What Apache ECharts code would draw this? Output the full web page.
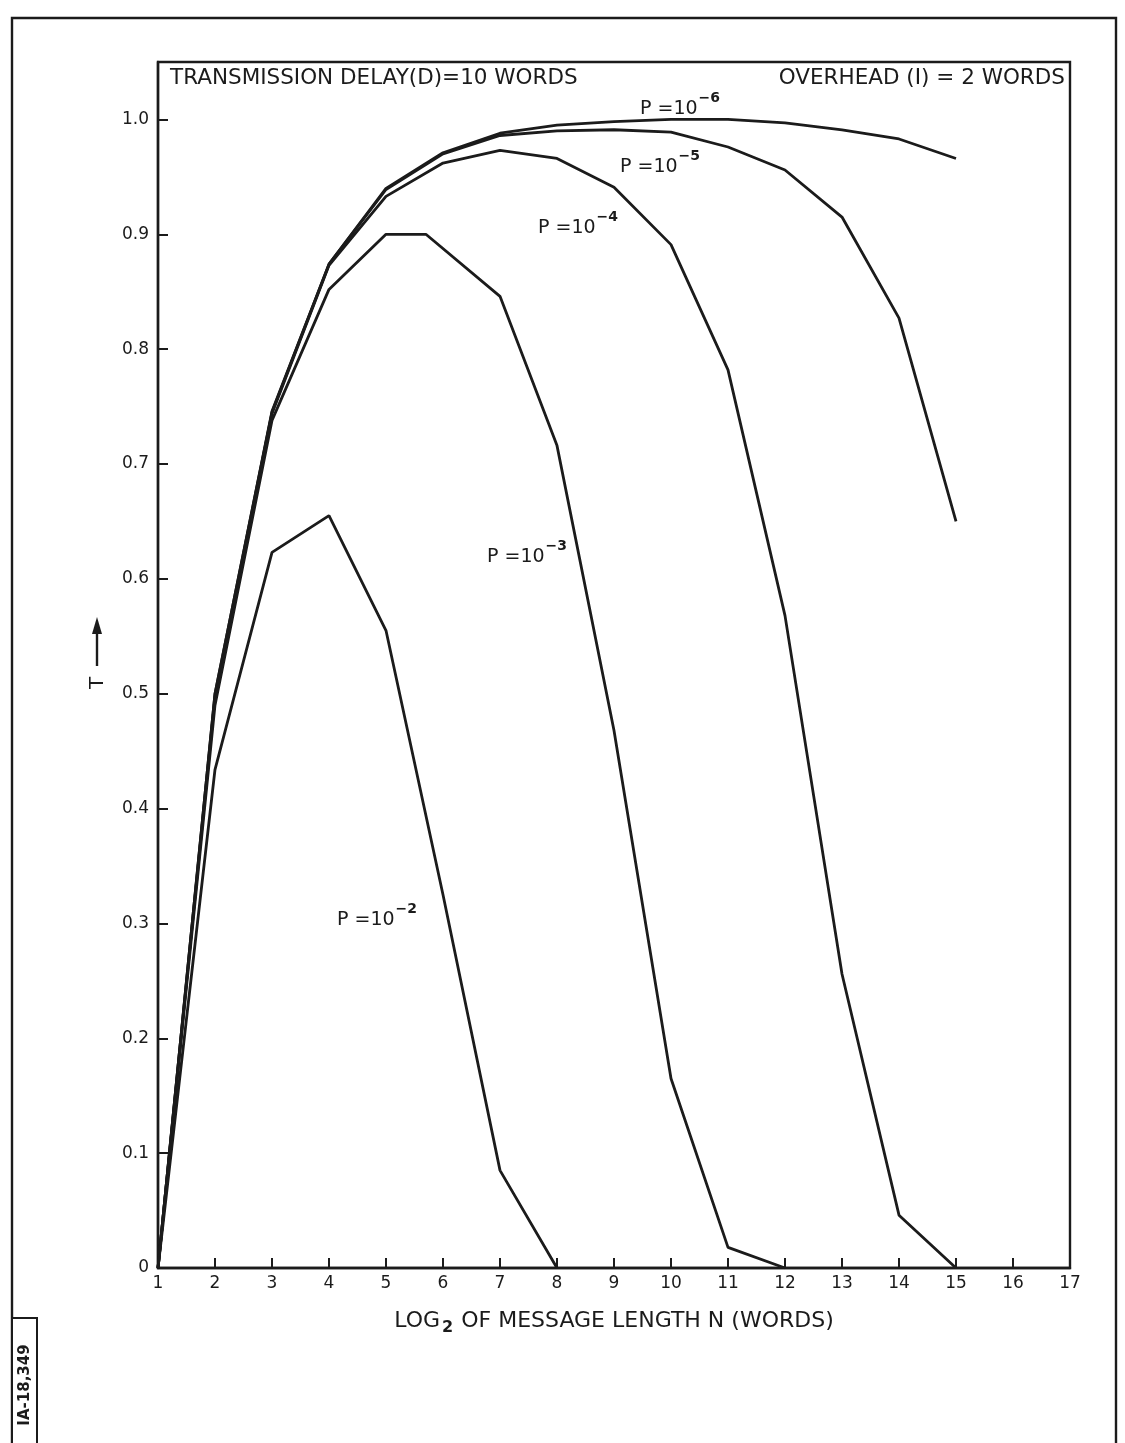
<!DOCTYPE html>
<html>
<head>
<meta charset="utf-8">
<script src="https://cdn.jsdelivr.net/npm/echarts@6/dist/echarts.min.js"></script>
<style>
  html, body { margin: 0; padding: 0; background: #ffffff; }
  #chart { width: 1125px; height: 1443px; }
</style>
</head>
<body>
<div id="chart"></div>
<script>
// ---- data (x = log2 N, y = T) ----
const X_P6 = [1, 2, 3, 4, 5, 6, 7, 8, 9, 10, 11, 12, 13, 14, 15];
const T_P6 = [0, 0.500, 0.746, 0.874, 0.940, 0.971, 0.988, 0.995, 0.998, 1.000, 1.000, 0.997, 0.991, 0.983, 0.966];

const X_P5 = [1, 2, 3, 4, 5, 6, 7, 8, 9, 10, 11, 12, 13, 14, 15];
const T_P5 = [0, 0.500, 0.745, 0.874, 0.939, 0.970, 0.986, 0.990, 0.991, 0.989, 0.976, 0.956, 0.915, 0.827, 0.650];

const X_P4 = [1, 2, 3, 4, 5, 6, 7, 8, 9, 10, 11, 12, 13, 14, 15];
const T_P4 = [0, 0.497, 0.744, 0.873, 0.933, 0.962, 0.973, 0.966, 0.941, 0.891, 0.782, 0.568, 0.256, 0.046, 0];

const X_P3 = [1, 2, 3, 4, 5, 5.7, 7, 8, 9, 10, 11, 12];
const T_P3 = [0, 0.490, 0.738, 0.852, 0.900, 0.900, 0.846, 0.716, 0.468, 0.165, 0.018, 0];

const X_P2 = [1, 2, 3, 4, 5, 6, 7, 8];
const T_P2 = [0, 0.434, 0.623, 0.655, 0.555, 0.325, 0.085, 0];

const X_TICKS = [1, 2, 3, 4, 5, 6, 7, 8, 9, 10, 11, 12, 13, 14, 15, 16, 17];
const Y_TICKS = [0, 0.1, 0.2, 0.3, 0.4, 0.5, 0.6, 0.7, 0.8, 0.9, 1.0];

const CURVE_LABELS = [
  { name: 'P6', exp: '−6' },
  { name: 'P5', exp: '−5' },
  { name: 'P4', exp: '−4' },
  { name: 'P3', exp: '−3' },
  { name: 'P2', exp: '−2' }
];

function pairs(xs, ys) { return xs.map((x, i) => [x, ys[i]]); }

const INK = '#1b1b1b';
const FONT = '"DejaVu Sans", "Liberation Sans", sans-serif';

const chart = echarts.init(document.getElementById('chart'), null, { renderer: 'canvas' });

function lineSeries(name, xs, ys) {
  return {
    name: name,
    type: 'line',
    data: pairs(xs, ys),
    showSymbol: false,
    symbol: 'none',
    smooth: false,
    lineStyle: { color: INK, width: 2.8 },
    itemStyle: { color: INK },
    emphasis: { disabled: true },
    animation: false,
    z: 3
  };
}

function curveLabel(exp, left, top) {
  return {
    type: 'text',
    left: left,
    top: top,
    style: {
      text: '{a|P =10}{s|' + exp + '}',
      rich: {
        a: { fontFamily: FONT, fontSize: 19, fill: INK, color: INK, lineHeight: 28, verticalAlign: 'bottom' },
        s: { fontFamily: FONT, fontSize: 14, fontWeight: 'bold', fill: INK, color: INK, lineHeight: 28, verticalAlign: 'top', padding: [0, 0, 12, 1] }
      }
    },
    z: 10
  };
}

const option = {
  backgroundColor: '#ffffff',
  animation: false,
  textStyle: { fontFamily: FONT, color: INK },
  grid: {
    left: 158,
    right: 55,
    top: 62,
    bottom: 175,
    show: true,
    borderColor: INK,
    borderWidth: 2.4,
    backgroundColor: 'transparent'
  },
  xAxis: {
    type: 'value',
    min: X_TICKS[0],
    max: X_TICKS[X_TICKS.length - 1],
    interval: 1,
    splitLine: { show: false },
    axisLine: { show: true, lineStyle: { color: INK, width: 2.4 } },
    axisTick: { show: true, inside: true, length: 10, lineStyle: { color: INK, width: 2 } },
    axisLabel: { color: INK, fontFamily: FONT, fontSize: 17, margin: 7, formatter: v => String(v) },
    name: '{a|LOG}{b|2}{a| OF MESSAGE LENGTH N (WORDS)}',
    nameLocation: 'middle',
    nameGap: 42,
    nameTextStyle: {
      rich: {
        a: { fontFamily: FONT, fontSize: 22, color: INK, lineHeight: 28, verticalAlign: 'top' },
        b: { fontFamily: FONT, fontSize: 16, fontWeight: 'bold', color: INK, lineHeight: 28, verticalAlign: 'top', padding: [10, 1, 0, 2] }
      }
    }
  },
  yAxis: {
    type: 'value',
    min: 0,
    max: 1.05,
    interval: 0.1,
    splitLine: { show: false },
    axisLine: { show: true, lineStyle: { color: INK, width: 2.4 } },
    axisTick: { show: true, inside: true, length: 10, lineStyle: { color: INK, width: 2 } },
    axisLabel: {
      color: INK, fontFamily: FONT, fontSize: 17, margin: 9,
      showMaxLabel: false,
      formatter: v => {
        const r = Math.round(v * 10) / 10;
        if (Y_TICKS.indexOf(r) < 0 || Math.abs(r - v) > 1e-6) return '';
        return r === 0 ? '0' : r.toFixed(1);
      }
    }
  },
  series: [
    lineSeries('P = 10^-6', X_P6, T_P6),
    lineSeries('P = 10^-5', X_P5, T_P5),
    lineSeries('P = 10^-4', X_P4, T_P4),
    lineSeries('P = 10^-3', X_P3, T_P3),
    lineSeries('P = 10^-2', X_P2, T_P2)
  ],
  graphic: [
    // outer frame of the figure
    { type: 'polyline', shape: { points: [[12, 1443], [12, 18], [1116, 18], [1116, 1443]] },
      style: { stroke: INK, lineWidth: 2.4, fill: null }, silent: true },
    // figure number box
    { type: 'rect', shape: { x: 12, y: 1318, width: 25, height: 130 },
      style: { stroke: INK, lineWidth: 2, fill: '#ffffff' }, silent: true },
    { type: 'text', x: 25, y: 1385, rotation: Math.PI / 2,
      style: { text: 'IA-18,349', fontFamily: FONT, fontSize: 15, fontWeight: 'bold', fill: INK, align: 'center', verticalAlign: 'middle' } },
    // header texts
    { type: 'text', left: 170, top: 67,
      style: { text: 'TRANSMISSION DELAY(D)=10 WORDS', fontFamily: FONT, fontSize: 21.5, fill: INK } },
    { type: 'text', right: 1125 - 1065, top: 67,
      style: { text: 'OVERHEAD (I) = 2 WORDS', fontFamily: FONT, fontSize: 21.5, fill: INK } },
    // y axis name: T with upward arrow
    { type: 'text', x: 98, y: 683, rotation: Math.PI / 2,
      style: { text: 'T', fontFamily: FONT, fontSize: 20, fill: INK, align: 'center', verticalAlign: 'middle' } },
    { type: 'line', shape: { x1: 97, y1: 666, x2: 97, y2: 630 }, style: { stroke: INK, lineWidth: 2.4 } },
    { type: 'polygon', shape: { points: [[97, 617], [92, 634], [102, 634]] }, style: { fill: INK } },
    // curve labels
    curveLabel(CURVE_LABELS[0].exp, 640, 91),
    curveLabel(CURVE_LABELS[1].exp, 620, 149),
    curveLabel(CURVE_LABELS[2].exp, 538, 210),
    curveLabel(CURVE_LABELS[3].exp, 487, 539),
    curveLabel(CURVE_LABELS[4].exp, 337, 902)
  ]
};

chart.setOption(option);
</script>
</body>
</html>
